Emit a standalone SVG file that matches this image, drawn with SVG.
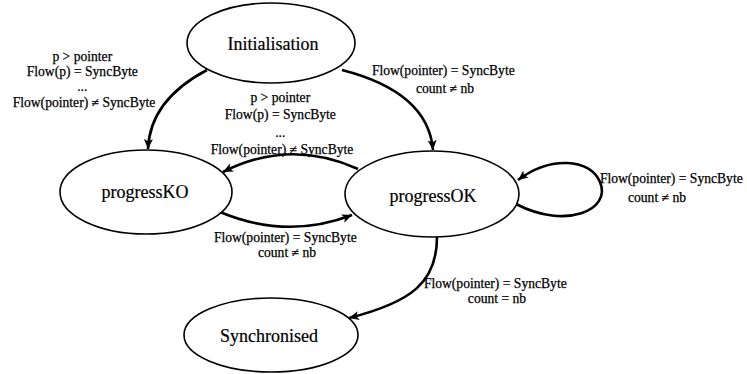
<svg xmlns="http://www.w3.org/2000/svg" width="747" height="374" viewBox="0 0 747 374">
  <style>
    .state { fill: #ffffff; stroke: #000000; stroke-width: 1.6; }
    .name { font-family: "Liberation Serif", "Times New Roman", Times, "DejaVu Serif", "Noto Serif", serif; font-size: 18px; fill: #000000; text-anchor: middle; stroke: #000000; stroke-width: 0.2; }
    .edge { fill: none; stroke: #000000; stroke-width: 2.6; marker-end: url(#arrow); }
    .lbl { font-family: "Liberation Serif", "Times New Roman", Times, "DejaVu Serif", "Noto Serif", serif; font-size: 13.6px; fill: #000000; text-anchor: middle; stroke: #000000; stroke-width: 0.25; }
  </style>
  <defs>
    <marker id="arrow" markerUnits="userSpaceOnUse" markerWidth="12" markerHeight="10" refX="10" refY="4.5" orient="auto">
      <path d="M0,0 L10,4.5 L0,9 L2.5,4.5 Z" fill="#000000"/>
    </marker>
  </defs>
  <rect width="747" height="374" fill="#ffffff"/>

  <g id="connectors">
    <!-- Initialisation -> progressKO -->
    <path class="edge" d="M207,70 Q150,100 148,149"/>
    <!-- Initialisation -> progressOK -->
    <path class="edge" d="M342,70 Q428,92 433,150"/>
    <!-- progressOK -> progressKO -->
    <path class="edge" d="M358,169 Q290,138 223,172"/>
    <!-- progressKO -> progressOK -->
    <path class="edge" d="M220,212 Q287,240 352,215"/>
    <!-- progressOK self loop -->
    <path class="edge" d="M516,204 C566,230 612,210 600,182 C590,158 550,156 518,180"/>
    <!-- progressOK -> Synchronised -->
    <path class="edge" d="M437,237 C437,282 412,302 349,318"/>

    <text class="lbl">
      <tspan x="84" y="61">p &gt; pointer</tspan>
      <tspan x="84" y="76">Flow(p) = SyncByte</tspan>
      <tspan x="84" y="91">...</tspan>
      <tspan x="84" y="107">Flow(pointer) ≠ SyncByte</tspan>
    </text>
    <text class="lbl">
      <tspan x="445" y="75">Flow(pointer) = SyncByte</tspan>
      <tspan x="445" y="93">count ≠ nb</tspan>
    </text>
    <text class="lbl">
      <tspan x="282" y="102">p &gt; pointer</tspan>
      <tspan x="282" y="119">Flow(p) = SyncByte</tspan>
      <tspan x="282" y="137">...</tspan>
      <tspan x="282" y="154">Flow(pointer) ≠ SyncByte</tspan>
    </text>
    <text class="lbl">
      <tspan x="287" y="242">Flow(pointer) = SyncByte</tspan>
      <tspan x="287" y="257">count ≠ nb</tspan>
    </text>
    <text class="lbl">
      <tspan x="673" y="183">Flow(pointer) = SyncByte</tspan>
      <tspan x="657" y="202">count ≠ nb</tspan>
    </text>
    <text class="lbl">
      <tspan x="497" y="288">Flow(pointer) = SyncByte</tspan>
      <tspan x="497" y="303">count = nb</tspan>
    </text>
  </g>

  <g id="initialisation">
    <ellipse class="state" cx="271" cy="43" rx="84" ry="40"/>
    <text class="name" x="273" y="50">Initialisation</text>
  </g>
  <g id="progressKO">
    <ellipse class="state" cx="146" cy="192" rx="86" ry="42"/>
    <text class="name" x="145" y="198">progressKO</text>
  </g>
  <g id="progressOK">
    <ellipse class="state" cx="432" cy="194" rx="87" ry="43"/>
    <text class="name" x="433" y="202">progressOK</text>
  </g>
  <g id="synchronised">
    <ellipse class="state" cx="271" cy="335" rx="87" ry="37"/>
    <text class="name" x="269" y="342">Synchronised</text>
  </g>
</svg>
